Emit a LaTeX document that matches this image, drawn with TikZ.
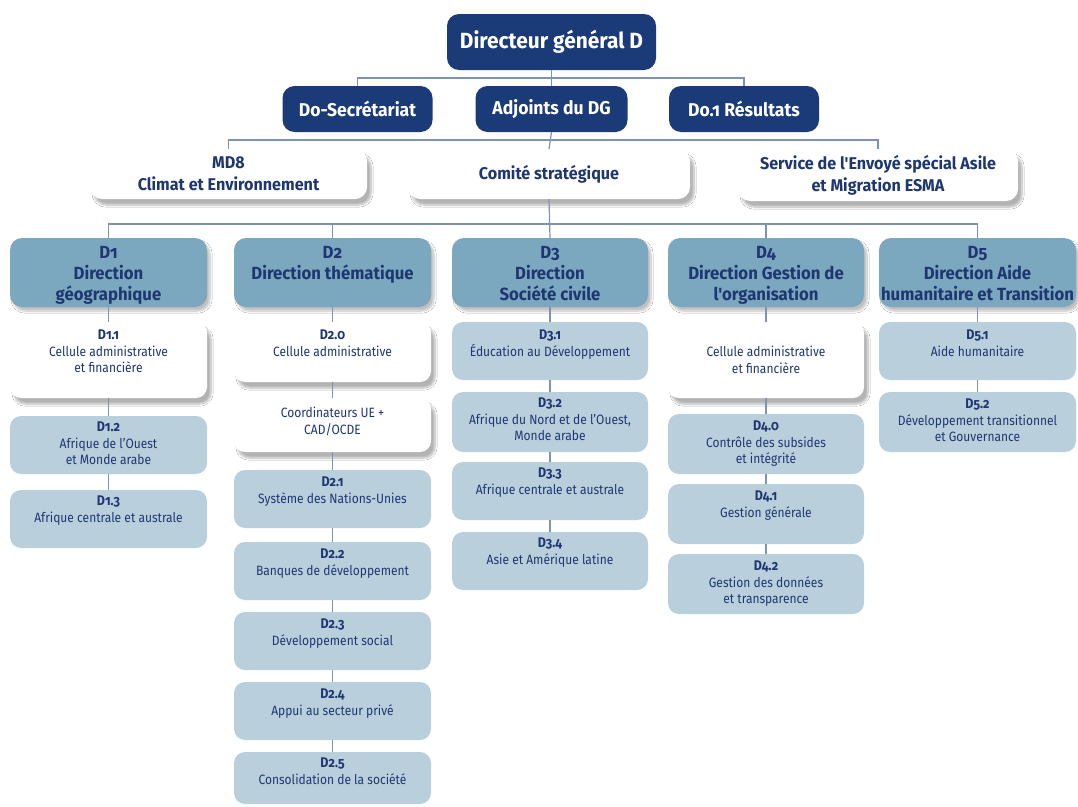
\documentclass[tikz,border=0pt]{standalone}
\usepackage{fontspec}
\setmainfont{Fira Sans}[FakeStretch=0.89, Numbers=OldStyle]
\newfontfamily\topfont{Fira Sans}[FakeStretch=0.95, Numbers=OldStyle]
\usetikzlibrary{shadows.blur}
\definecolor{navy}{HTML}{1B3A78}
\definecolor{dirblue}{HTML}{7BA7BF}
\definecolor{lightb}{HTML}{B9D0DC}
\definecolor{tnavy}{HTML}{1E3771}
\definecolor{conn}{HTML}{7F92B4}
\newcommand{\orgbox}[8]{% style, name, cx, top, width, height, text, text offset
  \node[#1, minimum width=#5pt, minimum height=#6pt] (#2) at (#3,{#4+#6/2}) {};
  \node[#1txt, anchor=north] (#2t) at ([yshift=-#8pt]#2.north) {#7};
}
\newcommand{\num}[1]{{\bfseries\fontsize{14}{16.5}\selectfont #1}}
\begin{document}
\begin{tikzpicture}[x=1pt,y=-1pt,
  every node/.style={inner sep=0pt, outer sep=0pt},
  navybox/.style={fill=navy, rounded corners=12pt, text=white, align=center,
     font=\topfont\bfseries\fontsize{18.5}{22}\selectfont},
  whitemain/.style={fill=white, rounded corners=12pt, text=tnavy, align=center,
     font=\topfont\bfseries\fontsize{17}{23}\selectfont,
     blur shadow={shadow xshift=4pt, shadow yshift=-6pt, shadow blur steps=10, shadow opacity=30}},
  dirbox/.style={fill=dirblue, rounded corners=12pt,
     blur shadow={shadow xshift=3pt, shadow yshift=-4pt, shadow blur steps=8, shadow opacity=25}},
  dirboxtxt/.style={text=tnavy, align=center, font=\topfont\bfseries\fontsize{17.6}{21}\selectfont},
  subbox/.style={fill=lightb, rounded corners=11pt},
  subboxtxt/.style={text=tnavy, align=center, font=\fontsize{13.5}{16.5}\selectfont},
  whitebox/.style={fill=white, rounded corners=11pt,
     blur shadow={shadow xshift=4pt, shadow yshift=-6pt, shadow blur steps=10, shadow opacity=30}},
  whiteboxtxt/.style={text=tnavy, align=center, font=\fontsize{13.5}{16.5}\selectfont},
  link/.style={draw=conn, line width=1.2pt}
]
\useasboundingbox[fill=white] (0,0) rectangle (1078,806);

% ---------- top ----------
\node[navybox, minimum width=209pt, minimum height=56pt, font=\topfont\bfseries\fontsize{22}{26}\selectfont] (dg) at (551.5,42) {Directeur général D};
\node[navybox, minimum width=150pt, minimum height=46pt] (sec) at (357.5,109) {Do-Secrétariat};
\node[navybox, minimum width=152pt, minimum height=46pt] (adj) at (551.5,109) {Adjoints du DG};
\node[navybox, minimum width=150pt, minimum height=46pt] (res) at (744,109) {Do.1 Résultats};

\coordinate (h1) at (551.5,78);
\coordinate (h2) at (551.5,140);
\coordinate (h3) at (551.5,224);

% row 3 (white)
\node[whitemain, minimum width=277pt, minimum height=50pt] (md8) at (228.5,174) {MD8\\[-1pt]Climat et Environnement};
\node[whitemain, minimum width=282pt, minimum height=50pt] (com) at (549,174) {Comité stratégique};
\node[whitemain, minimum width=280pt, minimum height=52pt] (esma) at (878,175) {Service de l'Envoyé spécial Asile\\[-1pt]et Migration ESMA};

% ---------- directions ----------
\orgbox{dirbox}{d1}{108.5}{238}{197}{69}{D1\\Direction\\géographique}{8}
\orgbox{dirbox}{d2}{332.5}{238}{197}{69}{D2\\Direction thématique}{8}
\orgbox{dirbox}{d3}{550}{238}{196}{69}{D3\\Direction\\Société civile}{8}
\orgbox{dirbox}{d4}{766}{238}{196}{69}{D4\\Direction Gestion de\\l'organisation}{8}
\orgbox{dirbox}{d5}{977.5}{238}{197}{69}{D5\\Direction Aide\\humanitaire et Transition}{8}

% ---------- column D1 ----------
\orgbox{whitebox}{d11}{108.5}{322}{197}{76}{\num{D1.1}\\Cellule administrative\\et financière}{8}
\orgbox{subbox}{d12}{108.5}{416}{197}{58}{\num{D1.2}\\Afrique de l'Ouest\\et Monde arabe}{6}
\orgbox{subbox}{d13}{108.5}{490}{197}{58}{\num{D1.3}\\Afrique centrale et australe}{6}

% ---------- column D2 ----------
\orgbox{whitebox}{d20}{332.5}{322}{197}{60}{\num{D2.0}\\Cellule administrative}{8}
\orgbox{whitebox}{coo}{332.5}{398}{197}{54}{Coordinateurs UE +\\CAD/OCDE}{9}
\orgbox{subbox}{d21}{332.5}{470}{197}{58}{\num{D2.1}\\Système des Nations-Unies}{7}
\orgbox{subbox}{d22}{332.5}{542}{197}{58}{\num{D2.2}\\Banques de développement}{7}
\orgbox{subbox}{d23}{332.5}{612}{197}{58}{\num{D2.3}\\Développement social}{7}
\orgbox{subbox}{d24}{332.5}{682}{197}{58}{\num{D2.4}\\Appui au secteur privé}{7}
\orgbox{subbox}{d25}{332.5}{752}{197}{52}{\num{D2.5}\\Consolidation de la société}{6}

% ---------- column D3 ----------
\orgbox{subbox}{d31}{550}{322}{196}{58}{\num{D3.1}\\Éducation au Développement}{8}
\orgbox{subbox}{d32}{550}{392}{196}{60}{\num{D3.2}\\Afrique du Nord et de l'Ouest,\\Monde arabe}{6}
\orgbox{subbox}{d33}{550}{462}{196}{58}{\num{D3.3}\\Afrique centrale et australe}{6}
\orgbox{subbox}{d34}{550}{532}{196}{58}{\num{D3.4}\\Asie et Amérique latine}{6}

% ---------- column D4 ----------
\orgbox{whitebox}{d4c}{766}{322}{196}{76}{Cellule administrative\\et financière}{24}
\orgbox{subbox}{d40}{766}{414}{196}{60}{\num{D4.0}\\Contrôle des subsides\\et intégrité}{7}
\orgbox{subbox}{d41}{766}{484}{196}{60}{\num{D4.1}\\Gestion générale}{7}
\orgbox{subbox}{d42}{766}{554}{196}{60}{\num{D4.2}\\Gestion des données\\et transparence}{7}

% ---------- column D5 ----------
\orgbox{subbox}{d51}{977.5}{322}{197}{58}{\num{D5.1}\\Aide humanitaire}{8}
\orgbox{subbox}{d52}{977.5}{392}{197}{60}{\num{D5.2}\\Développement transitionnel\\et Gouvernance}{7}

% ---------- connectors ----------
\draw[link] (dg.south) -- (adj.north);
\draw[link] (sec.north) |- (h1) -| (res.north);
\draw[link] (adj.south) -- (com.north);
\draw[link] (md8.north) |- (h2) -| (esma.north);
\draw[link] (com.south) -- (d3.north);
\draw[link] (d1.north) |- (h3) -| (d5.north);
\draw[link] (d2.north) -- (d2.north |- h3);
\draw[link] (d4.north) -- (d4.north |- h3);

\draw[link] (d1.south) -- (d11.north);
\draw[link] (d11.south) -- (d12.north);
\draw[link] (d12.south) -- (d13.north);

\draw[link] (d2.south) -- (d20.north);
\draw[link] (d20.south) -- (coo.north);
\draw[link] (coo.south) -- (d21.north);
\draw[link] (d21.south) -- (d22.north);
\draw[link] (d22.south) -- (d23.north);
\draw[link] (d23.south) -- (d24.north);
\draw[link] (d24.south) -- (d25.north);

\draw[link] (d3.south) -- (d31.north);
\draw[link] (d31.south) -- (d32.north);
\draw[link] (d32.south) -- (d33.north);
\draw[link] (d33.south) -- (d34.north);

\draw[link] (d4.south) -- (d4c.north);
\draw[link] (d4c.south) -- (d40.north);
\draw[link] (d40.south) -- (d41.north);
\draw[link] (d41.south) -- (d42.north);

\draw[link] (d5.south) -- (d51.north);
\draw[link] (d51.south) -- (d52.north);
\end{tikzpicture}
\end{document}
